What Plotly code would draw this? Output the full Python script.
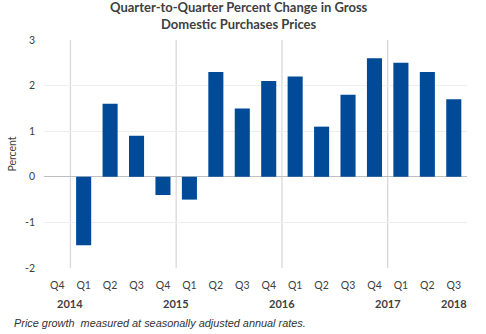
import plotly.graph_objects as go

# Quarterly categories, Q4 2014 through Q3 2018
quarters = ["Q4", "Q1", "Q2", "Q3", "Q4", "Q1", "Q2", "Q3",
            "Q4", "Q1", "Q2", "Q3", "Q4", "Q1", "Q2", "Q3"]
years = [2014, 2015, 2015, 2015, 2015, 2016, 2016, 2016,
         2016, 2017, 2017, 2017, 2017, 2018, 2018, 2018]
# Percent change, seasonally adjusted annual rate (no value for Q4 2014)
pct_change = [None, -1.5, 1.6, 0.9, -0.4, -0.5, 2.3, 1.5,
              2.1, 2.2, 1.1, 1.8, 2.6, 2.5, 2.3, 1.7]
year_labels = ["2014", "2015", "2016", "2017", "2018"]
y_ticks = [-2, -1, 0, 1, 2, 3]

x = list(range(len(quarters)))
BAR = "#004A97"
FONT = "Lato, 'Open Sans', Arial, sans-serif"

fig = go.Figure(go.Bar(
    x=x, y=pct_change, width=0.57,
    marker=dict(color=BAR, line=dict(width=0)),
))

# year boundaries fall between a Q4 and the following Q1
bounds = [i - 0.5 for i in range(1, len(years)) if years[i] != years[i - 1]]
shapes = [dict(type="line", xref="x", yref="y", x0=b, x1=b, y0=-2, y1=3,
               line=dict(color="#D9D9D9", width=1.3), layer="below")
          for b in bounds]

# year labels sit at the boundaries; the final year under its last quarter
year_pos = bounds + [len(quarters) - 1]
annotations = [dict(x=p, y=-0.12, xref="x", yref="paper", text=f"<b>{t}</b>",
                    showarrow=False, font=dict(family=FONT, size=11, color="#404040"),
                    xanchor="center", yanchor="top")
               for p, t in zip(year_pos, year_labels)]
annotations.append(dict(
    x=0.46, y=1.19, xref="paper", yref="paper",
    text="<b>Quarter-to-Quarter Percent Change in Gross<br>Domestic Purchases Prices</b>",
    showarrow=False, xanchor="center", yanchor="top",
    font=dict(family=FONT, size=13, color="#404040")))
annotations.append(dict(
    x=-0.076, y=-0.205, xref="paper", yref="paper",
    text="<i>Price growth  measured at seasonally adjusted annual rates.</i>",
    showarrow=False, xanchor="left", yanchor="top",
    font=dict(family="Arial, 'Liberation Sans', sans-serif", size=10.9, color="#333333")))

fig.update_layout(
    width=486, height=334,
    margin=dict(l=42, r=19, t=40, b=66),
    paper_bgcolor="white", plot_bgcolor="white",
    showlegend=False,
    xaxis=dict(
        tickmode="array", tickvals=x, ticktext=quarters,
        range=[-0.5, len(quarters) - 0.5],
        showgrid=False, zeroline=False, showline=False, ticks="",
        ticklabelstandoff=9,
        tickfont=dict(family=FONT, size=10.5, color="#404040")),
    yaxis=dict(
        range=[-2, 3], tickmode="array", tickvals=y_ticks,
        ticktext=[str(v) for v in y_ticks],
        showgrid=True, gridcolor="#EEEEEE", gridwidth=1,
        zeroline=True, zerolinecolor="#BFBFBF", zerolinewidth=1.3,
        showline=False, ticks="", ticklabelstandoff=8,
        tickfont=dict(family=FONT, size=10.5, color="#404040"),
        title=dict(text="Percent", standoff=6,
                   font=dict(family=FONT, size=10.5, color="#404040"))),
    shapes=shapes,
    annotations=annotations,
)

fig.write_html("out.html")
